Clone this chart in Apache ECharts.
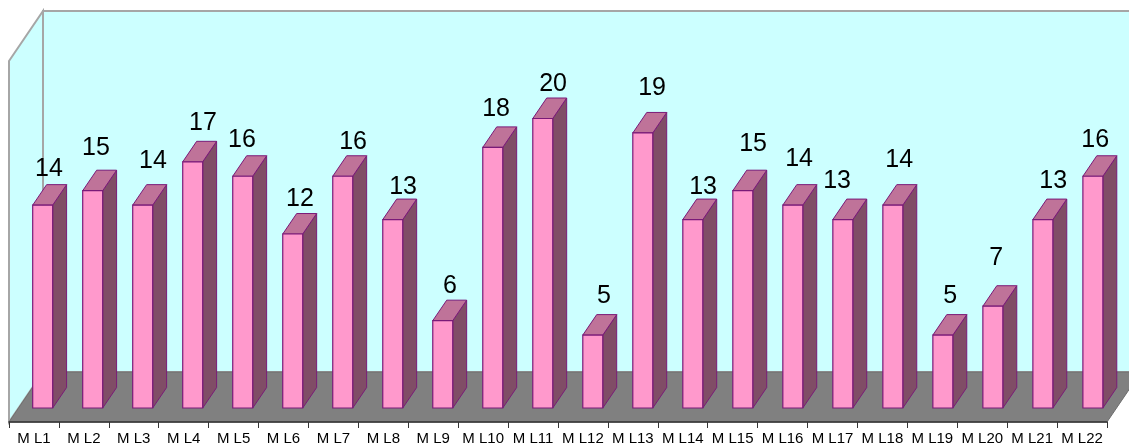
<!DOCTYPE html>
<html>
<head>
<meta charset="utf-8">
<style>html,body{margin:0;padding:0;background:#fff}#c{width:1129px;height:446px}</style>
<script src="https://cdn.jsdelivr.net/npm/echarts@6/dist/echarts.min.js"></script>
</head>
<body>
<div id="c"></div>
<script>
const categories = ['M L1','M L2','M L3','M L4','M L5','M L6','M L7','M L8','M L9','M L10','M L11','M L12','M L13','M L14','M L15','M L16','M L17','M L18','M L19','M L20','M L21','M L22'];
const values = [14,15,14,17,16,12,16,13,6,18,20,5,19,13,15,14,13,14,5,7,13,16];
const yMax = 25;

// hand-placed value labels: offset of each label from the top-front centre of its bar
const labelDX = [6.3,3.3,10.3,10.3,-0.7,7.3,10.3,10.3,7.3,3.3,10.3,11.3,9.3,10.3,10.3,6.3,-5.7,6.3,7.3,3.3,10.3,2.3];
const labelDY = [-37,-43,-45,-39,-37,-35,-35,-33,-35,-39,-35,-39,-45,-33,-47,-47,-39,-46,-39,-49,-39,-37];

// oblique projection of the chart box
const depthX = 34, depthY = -50;      // full box depth
const barNear = 0.28, barFar = 0.69;  // bar position within the depth
const barWidthRatio = 0.4;
const barShiftX = -0.8, barPitchFix = 0.1, barTopFix = -0.7;

const chart = echarts.init(document.getElementById('c'), null, {renderer:'canvas'});

function poly(points, fill, stroke, lw){
  return {type:'polygon', shape:{points}, style:{fill, stroke, lineWidth:lw, lineJoin:'miter'}};
}

function renderBox(params, api){
  const r = params.coordSys;
  const L = r.x, R = r.x + r.width, T = r.y, B = r.y + r.height;
  const wall = '#CCFFFF', edge = '#A6A6A6', floor = '#808080';
  return {type:'group', children:[
    poly([[L+depthX,T+depthY],[R+depthX,T+depthY],[R+depthX,B+depthY],[L+depthX,B+depthY]], wall, edge, 2),
    poly([[L,T],[L+depthX,T+depthY],[L+depthX,B+depthY],[L,B]], wall, edge, 2),
    poly([[L,B],[L+depthX,B+depthY],[R+depthX,B+depthY],[R,B]], floor, '#6E6E6E', 1)
  ]};
}

function renderBar(params, api){
  const i = api.value(0);
  const top = api.coord([i, api.value(1)]);
  const base = api.coord([i, 0]);
  const w = api.size([1,0])[0] * barWidthRatio;
  const ox = depthX * barNear + barShiftX + i * barPitchFix, oy = depthY * barNear;
  const dx = depthX * (barFar - barNear), dy = depthY * (barFar - barNear);
  const x0 = top[0] + ox - w/2, x1 = x0 + w;
  const yT = top[1] + oy + barTopFix, yB = base[1] + oy;
  const stroke = '#7A1A78';
  return {type:'group', children:[
    poly([[x1,yT],[x1+dx,yT+dy],[x1+dx,yB+dy],[x1,yB]], '#804D66', stroke, 1),
    poly([[x0,yT],[x0+dx,yT+dy],[x1+dx,yT+dy],[x1,yT]], '#BF7399', stroke, 1),
    poly([[x0,yT],[x1,yT],[x1,yB],[x0,yB]], '#FF99CC', stroke, 1.2),
    {type:'text', style:{
      text:String(api.value(1)), x:x0+w/2+labelDX[i], y:yT+labelDY[i]+0.5,
      fill:'#000', font:'25px "Liberation Sans", Arial, sans-serif',
      align:'center', verticalAlign:'middle'}}
  ]};
}

chart.setOption({
  animation:false,
  grid:{left:9, right:22, top:61, bottom:23},
  xAxis:{
    type:'category', data:categories, z:5,
    axisLine:{lineStyle:{color:'#333', width:1.5}},
    axisTick:{show:true, alignWithLabel:false, length:6, lineStyle:{color:'#333', width:1}},
    axisLabel:{interval:0, color:'#000', margin:9, fontSize:15, fontFamily:'"Liberation Sans", Arial, sans-serif', hideOverlap:false}
  },
  yAxis:{type:'value', min:0, max:yMax, show:false, splitLine:{show:false}},
  series:[
    {type:'custom', silent:true, z:1, renderItem:renderBox, data:[[0,0]], encode:{x:0,y:1}},
    {type:'custom', silent:true, z:2, renderItem:renderBar,
     data:values.map((v,i)=>[i,v]), encode:{x:0,y:1}}
  ]
});
</script>
</body>
</html>
